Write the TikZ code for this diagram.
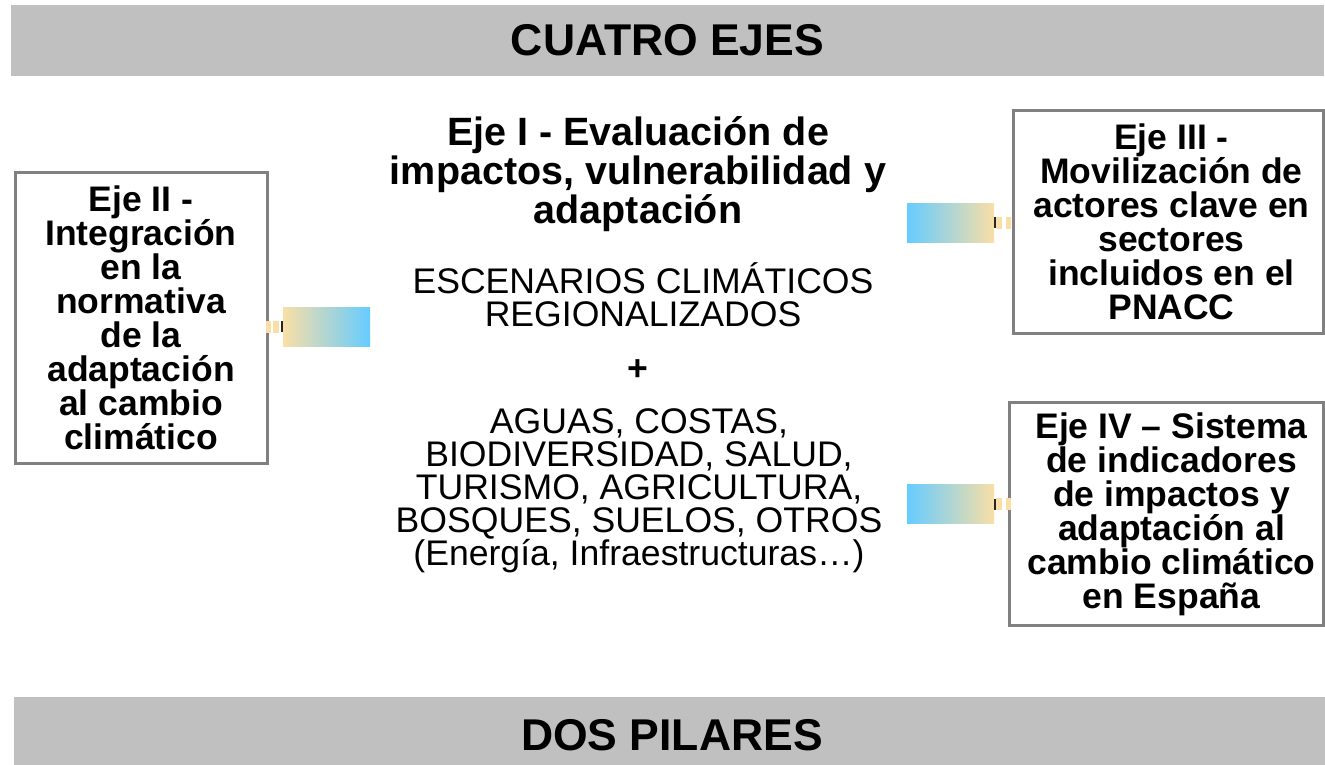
\documentclass[tikz,border=0pt]{standalone}
\usepackage{fontspec}
\setmainfont{Liberation Sans}
\usepackage{tikz}
\usetikzlibrary{positioning}
\definecolor{bannergray}{HTML}{C0C0C0}
\definecolor{boxgray}{HTML}{808080}
\definecolor{sand}{HTML}{F9DFA6}
\definecolor{sky}{HTML}{66CCFF}

\begin{document}
\begin{tikzpicture}[x=1pt,y=-1pt]
	\tikzstyle{banner} = [rectangle, fill=bannergray, inner sep=0pt, font=\bfseries\fontsize{44.5}{46}\selectfont]
	\tikzstyle{eje} = [rectangle, draw=boxgray, line width=3pt, inner sep=0pt]
	\tikzstyle{ejetext} = [align=center, inner sep=0pt, font=\bfseries\fontsize{35.5}{34}\selectfont]
	\tikzstyle{title} = [align=center, inner sep=0pt, font=\bfseries\fontsize{39.5}{39}\selectfont]
	\tikzstyle{plain} = [align=center, inner sep=0pt, font=\fontsize{35.6}{33}\selectfont]
	\tikzstyle{flow} = [rectangle, inner sep=0pt, minimum width=87pt, minimum height=39pt]
	\tikzstyle{bar} = [rectangle, fill=black!85, inner sep=0pt, minimum width=1.6pt, minimum height=11pt]
	\tikzstyle{tab} = [rectangle, fill=sand, inner sep=0pt, minimum width=6pt, minimum height=12pt]

	\useasboundingbox (0,0) rectangle (1325,764);

	% banners
	\node[banner, minimum width=1313pt, minimum height=71pt] (ejes) at (667.5,40.5) {CUATRO EJES};
	\node[banner, minimum width=1316pt, minimum height=76pt] (pilares) at (672,735) {DOS PILARES};

	% boxes
	\node[eje, minimum width=252pt, minimum height=291pt] (ejeII) at (141,317.5) {};
	\node[ejetext] at (ejeII) {Eje II -\\Integración\\en la\\normativa\\de la\\adaptación\\al cambio\\climático};
	\node[eje, minimum width=310pt, minimum height=223pt] (ejeIII) at (1168.5,222) {};
	\node[ejetext, xshift=3pt] at (ejeIII) {Eje III -\\Movilización de\\actores clave en\\sectores\\incluidos en el\\PNACC};
	\node[eje, minimum width=314pt, minimum height=223.5pt] (ejeIV) at (1166.5,514) {};
	\node[ejetext, xshift=5pt] at (ejeIV) {Eje IV – Sistema\\de indicadores\\de impactos y\\adaptación al\\cambio climático\\en España};

	% centre column
	\node[title] (ejeI) at (638,174) {Eje I - Evaluación de\\impactos, vulnerabilidad y\\adaptación};
	\node[plain] (escen) at (643,295) {ESCENARIOS CLIMÁTICOS\\REGIONALIZADOS};
	\node[plain, font=\bfseries\fontsize{35.6}{33}\selectfont] (plus) at (638,370) {+};
	\node[plain] (sect) at (639,491) {AGUAS, COSTAS,\\BIODIVERSIDAD, SALUD,\\TURISMO, AGRICULTURA,\\BOSQUES, SUELOS, OTROS\\(Energía, Infraestructuras…)};

	% links
	\node[flow, left color=sand, right color=sky] (linkII) at (326.5,326.5) {};
	\node[bar, left=0pt of linkII] (barII) {};
	\node[tab, left=2pt of barII] (tabIIa) {};
	\node[tab, minimum width=5pt, left=1pt of tabIIa] (tabIIb) {};

	\node[flow, left color=sky, right color=sand] (linkIII) at (950.5,222.5) {};
	\node[bar, right=0pt of linkIII] (barIII) {};
	\node[tab, right=0pt of barIII] (tabIIIa) {};
	\node[tab, minimum width=5pt, right=3pt of tabIIIa] (tabIIIb) {};

	\node[flow, left color=sky, right color=sand] (linkIV) at (950.5,504) {};
	\node[bar, right=0pt of linkIV] (barIV) {};
	\node[tab, right=0pt of barIV] (tabIVa) {};
	\node[tab, minimum width=5pt, right=3pt of tabIVa] (tabIVb) {};

\end{tikzpicture}
\end{document}
